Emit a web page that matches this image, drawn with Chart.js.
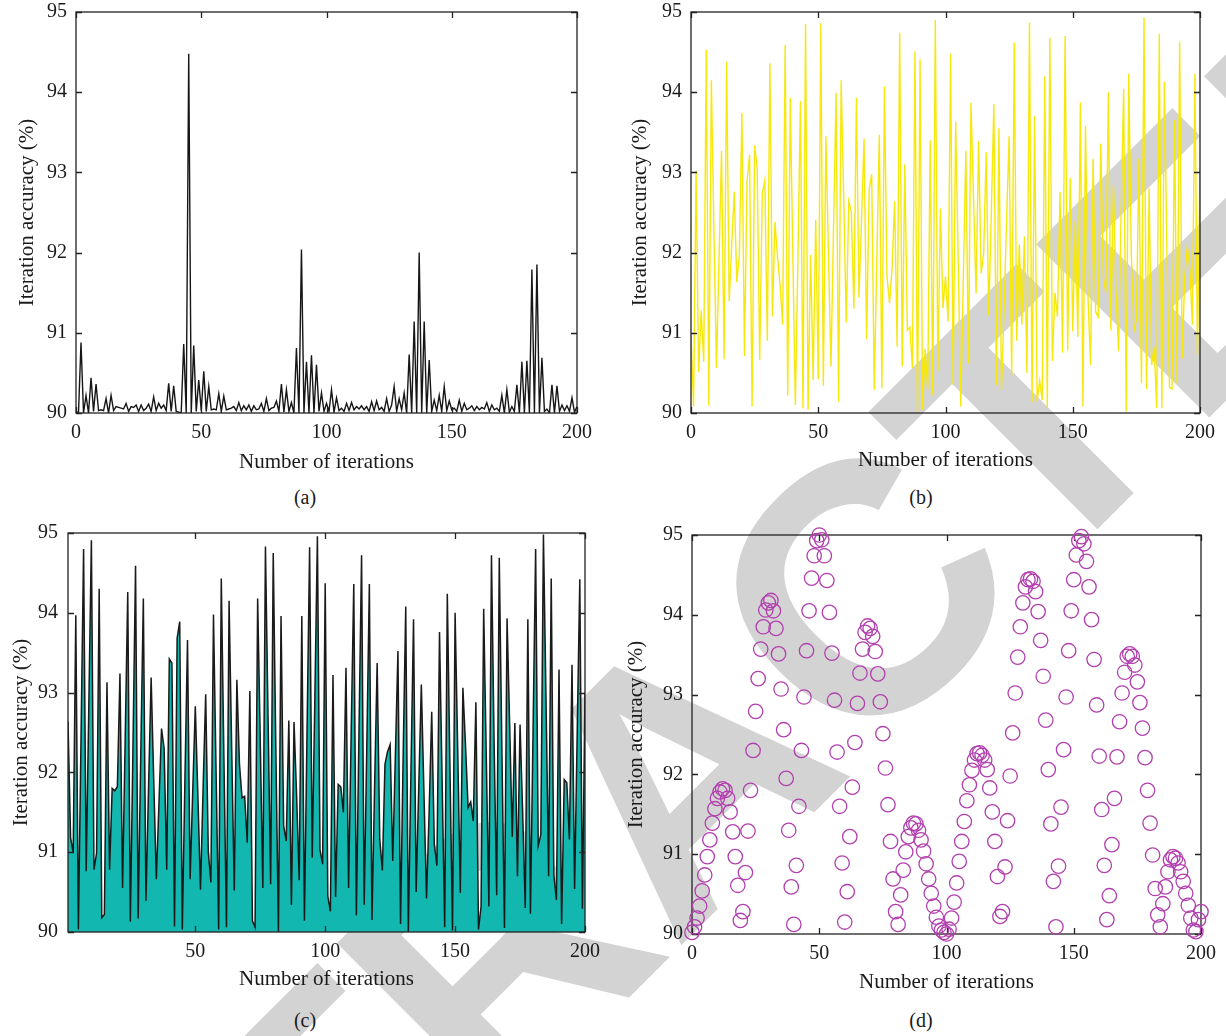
<!DOCTYPE html>
<html>
<head>
<meta charset="utf-8">
<script src="https://cdn.jsdelivr.net/npm/chart.js@4.4.1/dist/chart.umd.min.js"></script>
<style>
  html, body { margin: 0; padding: 0; background: #ffffff; }
  #stage { position: relative; width: 1226px; height: 1036px; overflow: hidden; background: #ffffff; }
  #wm { position: absolute; left: 0; top: 0; z-index: 0; white-space: nowrap; line-height: 1;
        font-family: 'Liberation Sans', Arial, sans-serif; font-weight: bold; font-size: 356px;
        color: #d3d3d3; transform-origin: 0 0; transform: rotate(-45deg); }
  .panel { position: absolute; z-index: 1; }
  .cap { position: absolute; z-index: 2; width: 100px; text-align: center; line-height: 24px;
         font-family: 'Liberation Serif', 'DejaVu Serif', serif; font-size: 20px; color: #1a1a1a; }
</style>
</head>
<body>
<div id="stage">
  <div id="wm">RETRA<span id="wmC">C</span>TED</div>
  <div class="panel" style="left:0px;top:0px;"><canvas id="cA" width="613" height="482"></canvas></div>
  <div class="panel" style="left:613px;top:0px;"><canvas id="cB" width="613" height="482"></canvas></div>
  <div class="panel" style="left:0px;top:520px;"><canvas id="cC" width="613" height="482"></canvas></div>
  <div class="panel" style="left:613px;top:520px;"><canvas id="cD" width="613" height="482"></canvas></div>
  <div class="cap" style="left:255px;top:485px;">(a)</div>
  <div class="cap" style="left:871px;top:485px;">(b)</div>
  <div class="cap" style="left:255px;top:1008px;">(c)</div>
  <div class="cap" style="left:871px;top:1008px;">(d)</div>
</div>
<script>
// ---------------- data ----------------
const iterations = Array.from({length: 201}, (_, i) => i);   // 0..200
const iterationsC = iterations.slice(1);                      // 1..200

const xTicksFull = [0, 50, 100, 150, 200];
const xTicksC = [50, 100, 150, 200];
const yTicks = [90, 91, 92, 93, 94, 95];

const xTitle = 'Number of iterations';
const yTitle = 'Iteration accuracy (%)';

// (a) black spiky series
const accA = [90.02,90.0,90.88,90.0,90.22,90.0,90.44,90.02,90.36,90.03,
 90.04,90.03,90.18,90.0,90.22,90.03,90.08,90.07,90.06,90.05,
 90.12,90.02,90.08,90.07,90.1,90.02,90.1,90.03,90.06,90.11,
 90.02,90.2,90.03,90.12,90.06,90.1,90.03,90.37,90.02,90.34,
 90.02,90.01,90.0,90.86,90.0,94.48,90.0,90.84,90.02,90.41,
 90.03,90.52,90.02,90.33,90.04,90.05,90.04,90.24,90.02,90.21,
 90.04,90.05,90.06,90.08,90.03,90.13,90.03,90.09,90.04,90.1,
 90.02,90.09,90.04,90.05,90.12,90.02,90.18,90.03,90.06,90.07,
 90.15,90.02,90.36,90.01,90.29,90.02,90.13,90.0,90.81,90.0,
 92.04,90.0,90.64,90.0,90.72,90.0,90.6,90.02,90.25,90.02,
 90.12,90.02,90.29,90.01,90.19,90.03,90.06,90.02,90.12,90.03,
 90.13,90.04,90.08,90.05,90.09,90.04,90.08,90.02,90.14,90.03,
 90.15,90.04,90.07,90.02,90.18,90.02,90.1,90.33,90.02,90.18,
 90.04,90.25,90.0,90.73,90.0,91.14,90.0,92.0,90.0,91.14,
 90.0,90.66,90.02,90.16,90.03,90.22,90.02,90.33,90.03,90.15,
 90.04,90.06,90.02,90.16,90.02,90.12,90.04,90.06,90.09,90.03,
 90.08,90.04,90.07,90.05,90.13,90.02,90.1,90.04,90.06,90.02,
 90.22,90.0,90.29,90.01,90.08,90.02,90.35,90.0,90.64,90.0,
 90.65,90.0,91.79,90.0,91.85,90.0,90.69,90.02,90.05,90.0,
 90.35,90.0,90.34,90.02,90.1,90.03,90.09,90.02,90.19,90.01,
 90.08];

// (b) yellow series
const accB = [91.0,90.08,93.02,90.51,91.28,90.64,94.53,90.09,94.15,92.3,
 90.56,91.9,93.27,90.67,94.38,91.39,92.1,92.76,91.63,91.97,
 93.74,90.71,92.88,93.22,90.08,93.34,93.05,90.66,92.73,92.9,
 90.9,94.36,91.2,92.38,91.95,91.6,91.1,94.59,90.22,93.93,
 92.0,90.1,91.9,93.89,90.06,94.85,90.04,91.97,90.41,92.41,
 90.42,94.86,90.34,93.45,92.0,90.58,92.3,93.99,90.14,94.15,
 92.7,91.13,92.64,92.51,91.3,93.93,91.44,92.4,93.42,90.92,
 92.78,92.98,90.29,91.9,93.47,90.31,94.07,91.7,91.37,91.8,
 92.64,90.83,94.74,90.58,93.1,91.03,91.07,90.56,94.51,90.0,
 94.41,90.04,90.8,90.29,93.4,90.22,94.9,90.52,92.55,91.31,
 91.7,91.14,94.48,90.35,93.63,91.9,90.08,91.7,93.27,90.62,
 93.87,92.7,91.49,93.39,91.74,92.0,93.25,91.22,92.5,93.85,
 90.35,93.55,90.29,91.3,92.4,93.45,90.47,94.62,90.9,92.1,
 91.1,92.2,90.5,94.87,90.13,93.7,90.15,90.4,90.16,94.2,
 90.07,94.68,90.65,91.5,91.2,92.76,90.75,94.7,90.78,92.93,
 91.02,92.4,90.95,93.87,90.08,93.58,91.43,90.6,93.17,91.26,
 91.2,93.36,91.7,91.5,94.0,91.03,92.84,91.5,90.77,92.5,
 94.04,90.02,94.23,92.0,91.02,91.16,93.17,90.37,94.93,90.3,
 92.8,90.6,90.82,90.06,94.73,90.06,94.13,92.0,90.32,90.3,
 93.65,90.37,94.63,90.68,91.7,92.07,91.8,91.1,94.23,90.72,
 93.05];

// (c) teal area series, iterations 1..200
const accC = [92.64,91.18,90.99,93.97,90.03,92.4,94.8,90.76,92.8,94.91,
 90.78,90.99,94.3,90.18,90.22,93.13,90.78,91.8,91.77,91.82,
 93.24,90.55,92.4,94.26,90.13,92.3,94.59,90.17,92.2,94.18,
 90.39,91.8,93.19,91.9,90.66,91.6,92.55,92.3,90.78,93.42,
 93.37,90.07,93.68,93.89,90.03,91.9,93.66,90.66,91.75,92.83,
 91.7,90.53,91.8,92.98,91.01,90.62,93.98,92.0,90.03,94.43,
 92.2,90.06,94.15,92.3,90.52,93.16,92.1,91.68,91.7,91.12,
 93.02,90.14,90.06,94.18,92.4,90.55,94.83,92.7,90.6,94.75,
 92.3,90.0,93.96,91.33,91.14,92.65,90.34,92.63,91.7,90.65,
 93.96,90.14,92.5,94.82,90.93,92.9,94.96,91.03,90.85,94.37,
 90.45,90.26,93.22,90.44,91.85,91.82,91.5,93.31,90.55,92.5,
 94.36,90.21,92.5,94.72,90.34,92.3,94.36,90.15,91.8,93.37,
 91.16,90.77,92.1,92.26,92.35,90.89,92.2,93.52,90.1,92.2,
 94.08,90.0,92.0,93.92,90.5,91.8,93.1,91.76,90.42,91.5,
 92.76,91.1,90.83,93.76,91.9,90.06,94.24,92.1,90.02,94.0,
 92.3,90.49,93.06,92.35,91.56,91.63,91.39,92.88,90.03,90.32,
 94.05,92.2,90.32,94.72,92.4,90.46,94.69,92.3,90.05,93.93,
 92.6,91.19,92.62,90.7,92.6,91.5,90.3,93.92,90.23,92.5,
 94.8,91.08,91.22,94.98,92.9,90.7,94.43,90.72,90.4,93.29,
 90.1,91.91,91.87,91.16,93.35,90.54,92.5,94.42,90.29,93.0];

// (d) purple circles
const accD = [90.02,90.09,90.2,90.35,90.54,90.74,90.97,91.18,91.39,91.57,
 91.7,91.78,91.82,91.8,91.7,91.53,91.28,90.97,90.61,90.17,
 90.28,90.77,91.29,91.8,92.3,92.79,93.2,93.57,93.85,94.06,
 94.15,94.18,94.05,93.83,93.51,93.07,92.56,91.95,91.3,90.59,
 90.12,90.86,91.6,92.3,92.97,93.55,94.05,94.46,94.74,94.93,
 95.0,94.94,94.74,94.43,94.03,93.52,92.93,92.28,91.6,90.89,
 90.15,90.53,91.22,91.84,92.4,92.89,93.27,93.57,93.78,93.86,
 93.83,93.73,93.54,93.26,92.91,92.51,92.08,91.62,91.16,90.69,
 90.28,90.12,90.49,90.8,91.03,91.22,91.33,91.39,91.38,91.3,
 91.18,91.04,90.88,90.69,90.51,90.35,90.21,90.1,90.05,90.02,
 90.0,90.06,90.2,90.4,90.64,90.91,91.16,91.41,91.67,91.87,
 92.05,92.18,92.26,92.27,92.24,92.18,92.06,91.83,91.53,91.16,
 90.72,90.22,90.28,90.84,91.42,91.98,92.52,93.02,93.47,93.85,
 94.15,94.35,94.44,94.45,94.42,94.29,94.04,93.68,93.23,92.68,
 92.06,91.38,90.66,90.09,90.85,91.59,92.31,92.97,93.55,94.05,
 94.44,94.75,94.93,94.98,94.89,94.67,94.35,93.94,93.44,92.87,
 92.23,91.56,90.86,90.18,90.48,91.12,91.7,92.22,92.66,93.02,
 93.28,93.48,93.51,93.48,93.37,93.16,92.9,92.58,92.21,91.8,
 91.39,90.99,90.57,90.24,90.09,90.38,90.59,90.78,90.93,90.97,
 90.95,90.89,90.78,90.66,90.51,90.36,90.2,90.05,90.03,90.18,
 90.28];

// ---------------- styling ----------------
const ink = '#1a1a1a';
const serif = "'Liberation Serif', 'DejaVu Serif', serif";
const tickFont = { family: serif, size: 20 };
const titleFont = { family: serif, size: 21 };

function drawFrame(chart) {
  const { ctx, chartArea: { left, right, top, bottom }, scales: { x, y } } = chart;
  ctx.save();
  ctx.strokeStyle = '#222';
  ctx.lineWidth = 1.3;
  ctx.strokeRect(left, top, right - left, bottom - top);
  const L = 6;
  ctx.beginPath();
  x.ticks.forEach(t => {
    const px = Math.round(x.getPixelForValue(t.value)) + 0.5;
    ctx.moveTo(px, bottom); ctx.lineTo(px, bottom - L);
    ctx.moveTo(px, top); ctx.lineTo(px, top + L);
  });
  y.ticks.forEach(t => {
    const py = Math.round(y.getPixelForValue(t.value)) + 0.5;
    ctx.moveTo(left, py); ctx.lineTo(left + L, py);
    ctx.moveTo(right, py); ctx.lineTo(right - L, py);
  });
  ctx.stroke();
  ctx.restore();
}
const framePlugin = {
  id: 'frame',
  beforeDatasetsDraw(chart, args, opts) { if (opts.before) drawFrame(chart); },
  afterDatasetsDraw(chart, args, opts) { if (!opts.before) drawFrame(chart); }
};

function panel(id, cfg) {
  return new Chart(document.getElementById(id), {
    type: 'line',
    data: { datasets: cfg.datasets },
    options: {
      responsive: false, animation: false, devicePixelRatio: 1,
      layout: { padding: cfg.pad },
      plugins: { legend: { display: false }, tooltip: { enabled: false }, frame: { before: !!cfg.frameBefore } },
      scales: {
        x: {
          type: 'linear', min: cfg.xMin, max: cfg.xMax,
          afterBuildTicks: s => { s.ticks = cfg.xTicks.map(v => ({ value: v })); },
          afterFit: s => { s.height = cfg.xHeight; s.paddingLeft = 0; s.paddingRight = 0; s.paddingTop = 0; s.paddingBottom = 0; },
          grid: { display: false, drawTicks: false }, border: { display: false },
          ticks: { font: tickFont, color: ink, padding: cfg.xTickPad, maxRotation: 0, autoSkip: false },
          title: { display: true, text: xTitle, font: titleFont, color: ink, padding: { top: 0, bottom: cfg.xTitlePad } }
        },
        y: {
          type: 'linear', min: 90, max: 95,
          afterBuildTicks: s => { s.ticks = yTicks.map(v => ({ value: v })); },
          afterFit: s => { s.width = cfg.yWidth; s.paddingLeft = 0; s.paddingRight = 0; s.paddingTop = 0; s.paddingBottom = 0; },
          grid: { display: false, drawTicks: false }, border: { display: false },
          ticks: { font: tickFont, color: ink, padding: cfg.yTickPad },
          title: { display: true, text: yTitle, font: titleFont, color: ink, padding: { top: cfg.yTitlePad, bottom: 0 } }
        }
      }
    },
    plugins: [framePlugin]
  });
}

const pts = (xs, ys) => xs.map((x, i) => ({ x: x, y: ys[i] }));

panel('cA', {
  datasets: [{ data: pts(iterations, accA), borderColor: '#161616', borderWidth: 1.4, pointRadius: 0, tension: 0, fill: false }],
  xMin: 0, xMax: 200, xTicks: xTicksFull,
  pad: { left: 0, top: 12, right: 36, bottom: 0 }, yWidth: 76, xHeight: 69,
  xTickPad: 8, xTitlePad: 7, yTickPad: 9, yTitlePad: 15
});
panel('cB', {
  datasets: [{ data: pts(iterations, accB), borderColor: '#f7e80c', borderWidth: 1.4, pointRadius: 0, tension: 0, fill: false }],
  xMin: 0, xMax: 200, xTicks: xTicksFull,
  pad: { left: 0, top: 12, right: 26, bottom: 0 }, yWidth: 78, xHeight: 69,
  xTickPad: 8, xTitlePad: 9, yTickPad: 9, yTitlePad: 15
});
panel('cC', {
  datasets: [{ data: pts(iterationsC, accC), borderColor: '#1a1a1a', backgroundColor: '#12b8b0', borderWidth: 1.5, pointRadius: 0, tension: 0, fill: 'start' }],
  xMin: 1, xMax: 200, xTicks: xTicksC,
  pad: { left: 0, top: 13, right: 28, bottom: 0 }, yWidth: 68, xHeight: 70,
  xTickPad: 8, xTitlePad: 10, yTickPad: 10, yTitlePad: 9
});
panel('cD', {
  datasets: [{ data: pts(iterations, accD), showLine: false, pointStyle: 'circle', pointRadius: 7.2,
               pointBorderWidth: 1.3, pointBorderColor: '#b23fae', pointBackgroundColor: 'rgba(0,0,0,0)', clip: false }],
  xMin: 0, xMax: 200, xTicks: xTicksFull,
  pad: { left: 0, top: 15, right: 25, bottom: 0 }, yWidth: 79, xHeight: 68,
  xTickPad: 8, xTitlePad: 7, yTickPad: 9, yTitlePad: 11, frameBefore: true
});

// ---------------- watermark placement ----------------
(function placeWatermark() {
  const wm = document.getElementById('wm');
  const c = document.getElementById('wmC').getBoundingClientRect();
  const st = document.getElementById('stage').getBoundingClientRect();
  const cx = (c.left + c.right) / 2 - st.left;
  const cy = (c.top + c.bottom) / 2 - st.top;
  wm.style.left = (860 - cx) + 'px';
  wm.style.top = (592 - cy) + 'px';
})();
</script>
</body>
</html>
